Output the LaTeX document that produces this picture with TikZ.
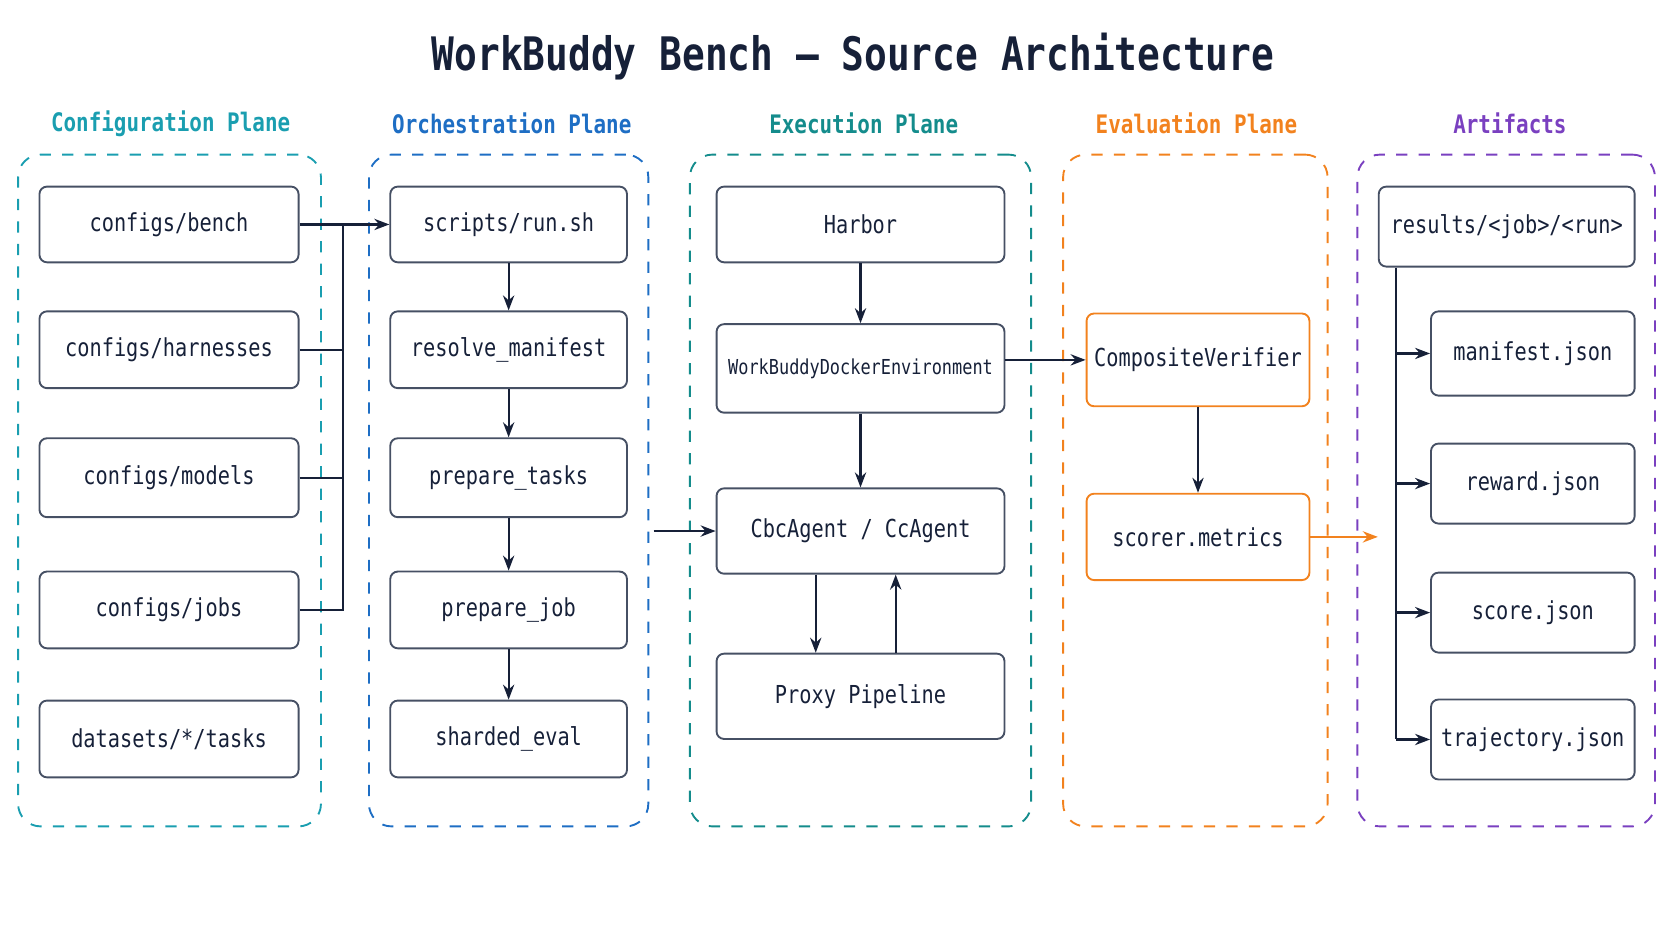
\documentclass[tikz,border=0pt]{standalone}
\usepackage{fontspec}
\setmonofont[FakeStretch=0.82]{DejaVu Sans Mono}
\usetikzlibrary{fit, positioning, arrows.meta}
\definecolor{NavyInk}{RGB}{22, 32, 56}
\definecolor{ConfTeal}{RGB}{26, 158, 176}
\definecolor{OrchBlue}{RGB}{30, 110, 196}
\definecolor{ExecTeal}{RGB}{20, 140, 140}
\definecolor{EvalOrange}{RGB}{242, 130, 30}
\definecolor{ArtPurple}{RGB}{122, 64, 192}
\definecolor{BoxEdge}{RGB}{70, 80, 100}
\tikzset{
  every label/.style={font=\ttfamily\fontsize{6.6}{8}\selectfont, text=NavyInk},
  box/.style={draw=BoxEdge, rounded corners=2pt, line width=0.5pt, inner sep=0pt},
  evalbox/.style={box, draw=EvalOrange},
  plane/.style={draw, dashed, rounded corners=6pt, line width=0.5pt, inner sep=0pt},
  planetitle/.style={font=\ttfamily\bfseries\fontsize{6.8}{8}\selectfont},
  link/.style={-{Stealth[length=4pt]}, line width=0.6pt, NavyInk},
  wire/.style={line width=0.6pt, NavyInk},
}
\begin{document}
\begin{tikzpicture}[x=0.01cm, y=-0.01cm]
    \useasboundingbox (0,0) rectangle (1568,882);
    \node[font=\ttfamily\bfseries\fontsize{12.3}{14}\selectfont, text=NavyInk] (title) at (800,53) {WorkBuddy Bench — Source Architecture};

    % Planes
    \node[plane, draw=ConfTeal, fit={(17,145)(301,775)}] (confplane) {};
    \node[plane, draw=OrchBlue, fit={(346,145)(608,775)}] (orchplane) {};
    \node[plane, draw=ExecTeal, fit={(647,145)(967,775)}] (execplane) {};
    \node[plane, draw=EvalOrange, fit={(997,145)(1245,775)}] (evalplane) {};
    \node[plane, draw=ArtPurple, fit={(1273,145)(1552,775)}] (artplane) {};
    \node[planetitle, text=ConfTeal] at (160,116) {Configuration Plane};
    \node[planetitle, text=OrchBlue] at (480,116) {Orchestration Plane};
    \node[planetitle, text=ExecTeal] at (810,116) {Execution Plane};
    \node[planetitle, text=EvalOrange] at (1122,116) {Evaluation Plane};
    \node[planetitle, text=ArtPurple] at (1416,116) {Artifacts};

    % Configuration
    \node[box, fit={(37,175)(280,246)}, label=center:configs/bench] (bench) {};
    \node[box, fit={(37,292)(280,364)}, label=center:configs/harnesses] (harn) {};
    \node[box, fit={(37,411)(280,485)}, label=center:configs/models] (models) {};
    \node[box, fit={(37,536)(280,608)}, label=center:configs/jobs] (jobs) {};
    \node[box, fit={(37,657)(280,729)}, label=center:datasets/*/tasks] (data) {};

    % Orchestration
    \node[box, fit={(366,175)(588,246)}, label=center:scripts/run.sh] (runsh) {};
    \node[box, fit={(366,292)(588,364)}, label=center:resolve\_manifest] (resolve) {};
    \node[box, fit={(366,411)(588,485)}, label=center:prepare\_tasks] (ptasks) {};
    \node[box, fit={(366,536)(588,608)}, label=center:prepare\_job] (pjob) {};
    \node[box, fit={(366,657)(588,729)}, label=center:sharded\_eval] (sharded) {};

    % Execution
    \node[box, fit={(672,175)(942,246)}, label=center:Harbor] (harbor) {};
    \node[box, fit={(672,304)(942,387)}, label={[font=\ttfamily\fontsize{5.5}{7}\selectfont]center:WorkBuddyDockerEnvironment}] (wbde) {};
    \node[box, fit={(672,458)(942,538)}, label=center:CbcAgent / CcAgent] (agent) {};
    \node[box, fit={(672,613)(942,693)}, label=center:Proxy Pipeline] (proxy) {};

    % Evaluation
    \node[evalbox, fit={(1019,294)(1228,381)}, label=center:CompositeVerifier] (verifier) {};
    \node[evalbox, fit={(1019,463)(1228,544)}, label=center:scorer.metrics] (scorer) {};

    % Artifacts
    \node[box, fit={(1293,175)(1533,250)}, label=center:results/<job>/<run>] (results) {};
    \node[box, fit={(1342,292)(1533,371)}, label=center:manifest.json] (manifest) {};
    \node[box, fit={(1342,416)(1533,491)}, label=center:reward.json] (reward) {};
    \node[box, fit={(1342,537)(1533,612)}, label=center:score.json] (score) {};
    \node[box, fit={(1342,656)(1533,731)}, label=center:trajectory.json] (traj) {};

    % Config bus
    \coordinate (bus) at (322,0);
    \draw[link] (bench.east) -- (runsh.west);
    \draw[wire] (harn.east) -- (harn.east -| bus);
    \draw[wire] (models.east) -- (models.east -| bus);
    \draw[wire] (jobs.east) -- (jobs.east -| bus) -- (bench.east -| bus);

    % Orchestration chain
    \draw[link] (runsh) -- (resolve);
    \draw[link] (resolve) -- (ptasks);
    \draw[link] (ptasks) -- (pjob);
    \draw[link] (pjob) -- (sharded);

    % Execution
    \draw[link] (orchplane.east |- agent.west) ++(4,0) -- (agent.west);
    \draw[link] (harbor) -- (wbde);
    \draw[link] (wbde) -- (agent);
    \draw[link] (agent.south -| 765,0) -- (proxy.north -| 765,0);
    \draw[link] (proxy.north -| 840,0) -- (agent.south -| 840,0);

    % Evaluation
    \draw[link] (wbde.east |- verifier.west) -- (verifier.west);
    \draw[link] (verifier) -- (scorer);
    \draw[link, EvalOrange] (scorer.east) -- (artplane.west |- scorer.east) -- ++(20,0);

    % Artifact tree
    \coordinate (trunk) at (1309,0);
    \draw[wire] (results.south -| trunk) -- (traj.west -| trunk);
    \foreach \f in {manifest, reward, score, traj}
        \draw[link] (\f.west -| trunk) -- (\f.west);
\end{tikzpicture}
\end{document}
